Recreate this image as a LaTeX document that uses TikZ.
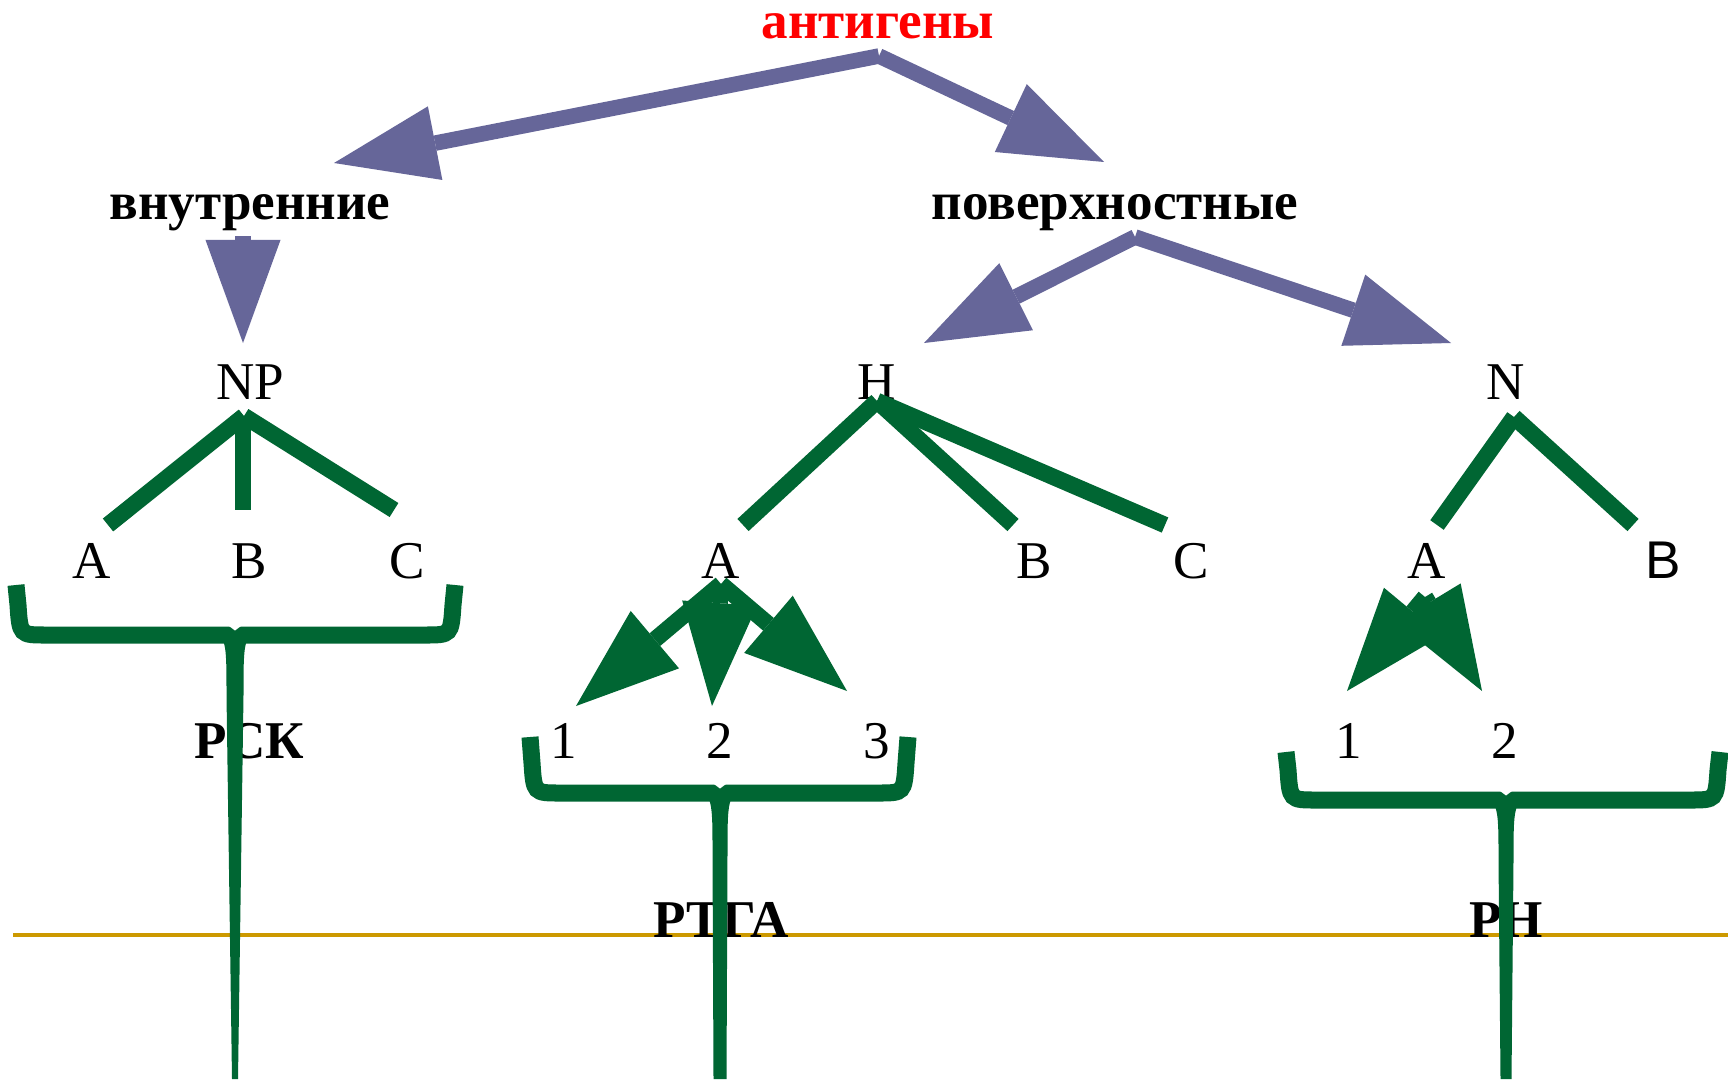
\documentclass[tikz,border=0pt]{standalone}
\usepackage{fontspec}
\setmainfont{Liberation Serif}
\newfontfamily\arialfont{Liberation Sans}
\usetikzlibrary{arrows.meta}
\definecolor{bluearr}{RGB}{102,102,153}
\definecolor{dgreen}{RGB}{0,102,51}
\definecolor{goldline}{RGB}{204,153,0}
\newcommand\bracedraw[7]{%
  \draw[dgreen,line width=0.17cm] (#1,#3) -- (#1+2,#4-30) .. controls (#1+4,#4) .. (#1+30,#4) -- (#2-30,#4) .. controls (#2-4,#4) .. (#2-2,#4-30) -- (#2,#3);
  \fill[white] (#5-6,#4-9) -- (#5,#4-4.5) -- (#5+6,#4-9) -- cycle;
  \fill[dgreen] (#5-16,#4) .. controls (#5-#6,#4+6) and (#5-#6,#4+20) .. (#5-#6,#4+60) -- (#5-#7,1079) -- (#5+#7,1079) -- (#5+#6,#4+60) .. controls (#5+#6,#4+20) and (#5+#6,#4+6) .. (#5+16,#4) -- cycle;
}
\begin{document}
\begin{tikzpicture}[x=0.01cm,y=-0.01cm,
  lbl/.style={anchor=base,inner sep=0pt,font=\fontsize{15.1pt}{18pt}\selectfont},
  blbl/.style={anchor=base,inner sep=0pt,font=\fontsize{15.1pt}{18pt}\selectfont\bfseries},
  slbl/.style={anchor=base,inner sep=0pt,font=\fontsize{15.1pt}{18pt}\selectfont\arialfont},
  barrow/.style={draw=bluearr,line width=0.155cm,-{Triangle[length=1.03cm,width=0.75cm,line width=0pt]}},
  gline/.style={draw=dgreen,line width=0.165cm},
  garrow/.style={draw=dgreen,line width=0.165cm,-{Triangle[length=1.03cm,width=0.75cm,line width=0pt]}}]
\fill[white] (0,0) rectangle (1728,1079);
\useasboundingbox (0,0) rectangle (1728,1079);
% gold line
\draw[goldline,line width=0.04cm] (13,935) -- (1728,935);
% texts
\node[blbl,text=red] (ant) at (878,39) {антигены};
\node[blbl] (vn) at (250,219) {внутренние};
\node[blbl] (pov) at (1115,219) {поверхностные};
\node[lbl] (np) at (250,399) {NP};
\node[lbl] (h) at (877,399) {H};
\node[lbl] (n) at (1506,399) {N};
\node[lbl] (a1) at (92,578) {A};
\node[lbl] (b1) at (249,578) {B};
\node[lbl] (c1) at (407,578) {C};
\node[lbl] (a2) at (721,578) {A};
\node[lbl] (b2) at (1034,578) {B};
\node[lbl] (c2) at (1191,578) {C};
\node[lbl] (a3) at (1427,578) {A};
\node[slbl] (b3) at (1663,578) {B};
\node[lbl] (n1) at (564,758) {1};
\node[lbl] (n2) at (720,758) {2};
\node[lbl] (n3) at (877,758) {3};
\node[lbl] (m1) at (1349,758) {1};
\node[lbl] (m2) at (1505,758) {2};
\node[blbl] (rsk) at (249,758) {РСК};
\node[blbl] (rtga) at (721,937) {РТГА};
\node[blbl] (rn) at (1506,937) {РН};
% blue arrows
\coordinate (antS) at (879,56);
\coordinate (vnS) at (243,236);
\coordinate (povS) at (1135,237);
\coordinate (vnT) at (334,163);
\coordinate (povT) at (1104,162);
\coordinate (npT) at (243,343);
\coordinate (hT) at (924,343);
\coordinate (nT) at (1451,343);
\draw[barrow] (antS) -- (vnT);
\draw[barrow] (antS) -- (povT);
\draw[barrow] (vnS) -- (npT);
\draw[barrow] (povS) -- (hT);
\draw[barrow] (povS) -- (nT);
% green tree lines
\coordinate (npS) at (244,416);
\coordinate (npA) at (108,525);
\coordinate (npB) at (243,510);
\coordinate (npC) at (394,510);
\draw[gline] (npS) -- (npA);
\draw[gline] (243,416) -- (npB);
\draw[gline] (npS) -- (npC);
\coordinate (hS) at (877,401);
\coordinate (hA) at (743,525);
\coordinate (hB) at (1013,525);
\coordinate (hC) at (1165,525);
\draw[gline] (hS) -- (hA);
\draw[gline] (hS) -- (hB);
\draw[gline] (hS) -- (hC);
\coordinate (nS) at (1514,417);
\coordinate (nA) at (1437,525);
\coordinate (nB) at (1633,525);
\draw[gline] (nS) -- (nA);
\draw[gline] (nS) -- (nB);
% green arrows
\coordinate (a2S) at (721,584);
\coordinate (t21) at (576,706);
\coordinate (t22) at (712,706);
\coordinate (t23) at (847,691);
\draw[garrow] (a2S) -- (t21);
\draw[garrow] (a2S) -- (t22);
\draw[garrow] (a2S) -- (t23);
\coordinate (a3S) at (1425,597);
\coordinate (t31) at (1347,691);
\coordinate (t32) at (1482,691);
\draw[garrow] (a3S) -- (t31);
\draw[garrow] (a3S) -- (t32);
% braces
\bracedraw{16}{455}{585}{635}{235}{8.5}{3}
\bracedraw{530}{908}{737}{793}{720}{7.5}{6.5}
\bracedraw{1286}{1720}{752}{800}{1506}{7.5}{5.5}
\end{tikzpicture}
\end{document}
